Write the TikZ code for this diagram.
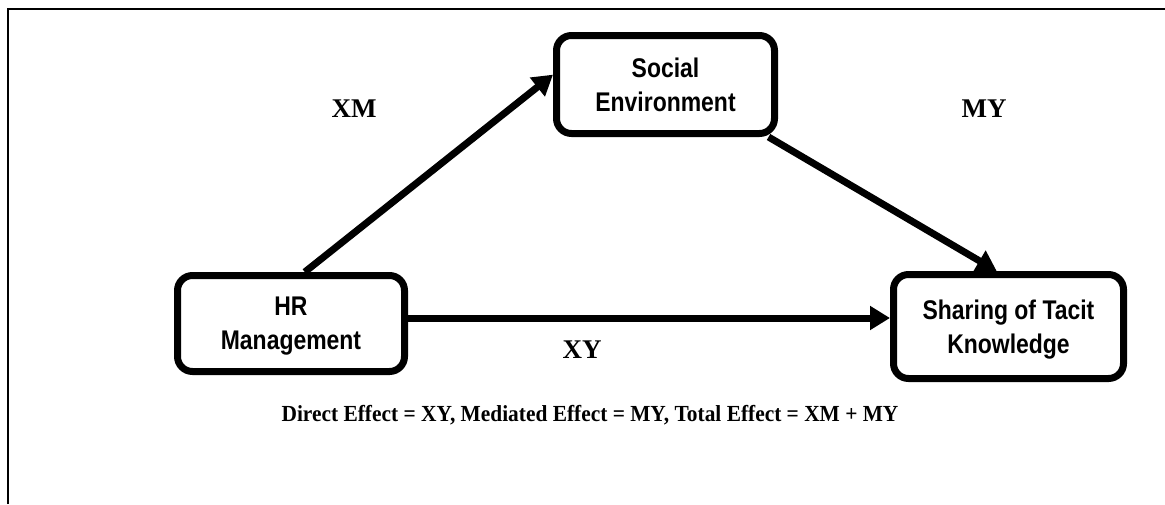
\documentclass[tikz,border=0pt]{standalone}
\usepackage{fontspec}
\setmainfont{Liberation Serif}
\newfontfamily\boxfont[FakeStretch=0.85]{Liberation Sans}
\newfontfamily\capfont[FakeStretch=0.93]{Liberation Serif}
\usetikzlibrary{arrows.meta}

\tikzset{
  varbox/.style={draw, line width=7pt, rounded corners=15pt, fill=white,
    align=center, inner sep=0pt, text depth=0pt,
    font=\boxfont\bfseries\fontsize{27}{34}\selectfont},
  path/.style={line width=7pt, -{Triangle[length=20pt,width=23pt]}},
  coef/.style={font=\bfseries\fontsize{27}{30}\selectfont, inner sep=0pt},
  note/.style={font=\capfont\bfseries\fontsize{23}{26}\selectfont, inner sep=0pt},
  frame/.style={line width=2.5pt}
}

\begin{document}
\begin{tikzpicture}[x=1pt, y=-1pt]
  \useasboundingbox (0,0) rectangle (1165,504);

  % outer frame (only top and left edges fall on the page)
  \draw[frame] (8,504) -- (8,9) -- (1165,9);

  % variables
  \node[varbox, minimum width=227pt, minimum height=96pt]  (hr)      at (291,323.5)  {HR\\Management};
  \node[varbox, minimum width=218pt, minimum height=98pt]  (social)  at (665.5,84.5) {Social\\Environment};
  \node[varbox, minimum width=230pt, minimum height=104pt] (sharing) at (1008.5,326.5) {Sharing of Tacit\\Knowledge};

  % paths
  \draw[path] (hr.75) -- (social.175);
  \draw[path] (social.-27) -- (sharing.102);
  \draw[path] ([yshift=5.5pt]hr.east) -- ([yshift=5.5pt]hr.east -| sharing.west);

  % coefficient labels
  \node[coef] (xm) at (354,109) {XM};
  \node[coef] (my) at (984,109) {MY};
  \node[coef] (xy) at (582,350) {XY};

  % effect summary
  \node[note] (summary) at (590,415) {Direct Effect = XY, Mediated Effect = MY, Total Effect = XM + MY};
\end{tikzpicture}
\end{document}
